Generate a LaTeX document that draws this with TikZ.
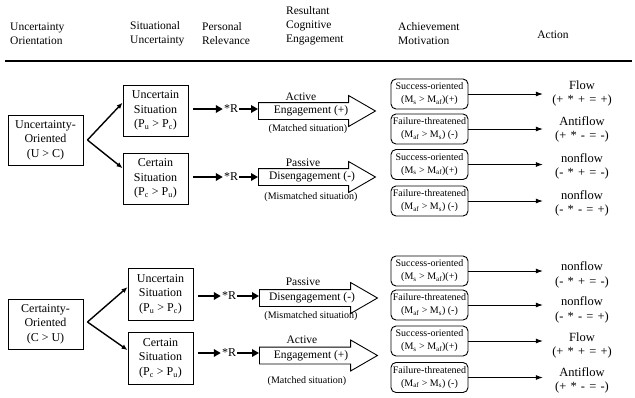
\documentclass[tikz,border=0pt]{standalone}
\usepackage{fontspec}
\setmainfont{Liberation Serif}
\usetikzlibrary{arrows.meta,shapes.arrows,calc}
\begin{document}
\begin{tikzpicture}[x=1pt,y=-1pt,
  hdr/.style={align=left, inner sep=0pt, font=\fontsize{11.5}{14}\selectfont},
  box/.style={draw, line width=0.9pt, align=center, inner sep=0pt, font=\fontsize{12}{14.5}\selectfont},
  mbox/.style={draw, rounded corners=5pt, line width=0.9pt, align=center, inner sep=1pt,
    minimum width=77pt, minimum height=30pt, font=\fontsize{10}{13}\selectfont},
  actn/.style={align=center, inner sep=0pt, text width=60pt, font=\fontsize{12.5}{14.5}\selectfont},
  rnode/.style={inner sep=1pt, font=\fontsize{12}{14}\selectfont},
  lab/.style={inner sep=0pt, font=\fontsize{11.5}{14}\selectfont},
  small/.style={inner sep=0pt, font=\fontsize{10}{12}\selectfont},
  bigarrow/.style={draw, line width=0.9pt, single arrow, single arrow head extend=7pt,
    single arrow tip angle=60, inner xsep=0pt, inner ysep=8pt, anchor=tail},
  thickarrow/.style={line width=2.6pt, -{Triangle[length=7pt,width=7.5pt]}},
  branch/.style={line width=1.4pt, -{Latex[length=6pt,width=5pt]}},
  flowarrow/.style={line width=0.8pt, shorten >=9pt, -{Latex[length=7pt,width=5pt]}}
]
\useasboundingbox (0,0) rectangle (635,397);

% header
\node[hdr, anchor=west] (h1) at (10,34) {Uncertainty\\Orientation};
\node[hdr, anchor=west] (h2) at (130,34) {Situational\\Uncertainty};
\node[hdr, anchor=west] (h3) at (202,34) {Personal\\Relevance};
\node[hdr, anchor=west] (h4) at (286,26) {Resultant\\Cognitive\\Engagement};
\node[hdr, anchor=west] (h5) at (398,34) {Achievement\\Motivation};
\node[hdr] (h6) at (553,35) {Action};
\coordinate (rl) at (5,61);
\coordinate (rr) at (632,61);
\draw[line width=1.2pt] (rl) -- (rr);

% ---------- top group ----------
\node[box, minimum width=75pt, minimum height=50pt] (uo) at (45.5,140) {Uncertainty-\\Oriented\\(U > C)};
\node[box, minimum width=65pt, minimum height=51pt] (us1) at (155.5,110.5) {Uncertain\\Situation\\(P\textsubscript{u} > P\textsubscript{c})};
\node[box, minimum width=65pt, minimum height=51pt] (cs1) at (155.5,178.5) {Certain\\Situation\\(P\textsubscript{c} > P\textsubscript{u})};
\coordinate (uoo) at ($(uo.east)+(4,0)$);
\draw[branch] (uoo) -- ($(us1.south west)!0.65!(us1.north west)$);
\draw[branch] (uoo) -- ($(cs1.south west)!0.7!(cs1.north west)$);

\node[rnode] (r1) at (231,109) {*R};
\node[rnode] (r2) at (231,177) {*R};
\node[bigarrow, minimum height=117pt] (e1) at (258,111) {};
\node[bigarrow, minimum height=117pt] (e2) at (258,177) {};
\draw[thickarrow] ($(us1.east |- r1)+(5,0)$) -- (r1.west);
\draw[thickarrow] (r1.east) -- (r1.east -| e1.tail);
\draw[thickarrow] ($(cs1.east |- r2)+(5,0)$) -- (r2.west);
\draw[thickarrow] (r2.east) -- (r2.east -| e2.tail);

\node[lab] (l1a) at (301,97) {Active};
\node[lab] (l1b) at (311,111) {Engagement (+)};
\node[small] (l1c) at (308,129) {(Matched situation)};
\node[lab] (l2a) at (303,163) {Passive};
\node[lab] (l2b) at (312,177) {Disengagement (-)};
\node[small] (l2c) at (311,197) {(Mismatched situation)};

\node[mbox] (m1) at (429.5,94) {Success-oriented\\(M\textsubscript{s} > M\textsubscript{af})(+)};
\node[mbox] (m2) at (429.5,129) {Failure-threatened\\(M\textsubscript{af} > M\textsubscript{s}) (-)};
\node[mbox] (m3) at (429.5,164.5) {Success-oriented\\(M\textsubscript{s} > M\textsubscript{af})(+)};
\node[mbox] (m4) at (429.5,201) {Failure-threatened\\(M\textsubscript{af} > M\textsubscript{s}) (-)};

\node[actn] (a1) at (582,93.5) {Flow\\(+ * + = +)};
\node[actn] (a2) at (582,129.5) {Antiflow\\(+ * - = -)};
\node[actn] (a3) at (582,166.5) {nonflow\\(- * + = -)};
\node[actn] (a4) at (582,203.5) {nonflow\\(- * - = +)};
\draw[flowarrow] (m1.east) -- (m1.east -| a1.west);
\draw[flowarrow] (m2.east) -- (m2.east -| a2.west);
\draw[flowarrow] (m3.east) -- (m3.east -| a3.west);
\draw[flowarrow] (m4.east) -- (m4.east -| a4.west);

% ---------- bottom group ----------
\node[box, minimum width=75pt, minimum height=50pt] (co) at (45.5,324) {Certainty-\\Oriented\\(C > U)};
\node[box, minimum width=65pt, minimum height=52pt] (us2) at (160.5,294) {Uncertain\\Situation\\(P\textsubscript{u} > P\textsubscript{c})};
\node[box, minimum width=65pt, minimum height=52pt] (cs2) at (160.5,358) {Certain\\Situation\\(P\textsubscript{c} > P\textsubscript{u})};
\coordinate (coo) at ($(co.east)+(4,-2)$);
\draw[branch] (coo) -- ($(us2.south west)!0.63!(us2.north west)$);
\draw[branch] (coo) -- ($(cs2.south west)!0.65!(cs2.north west)$);

\node[rnode] (r3) at (229,296) {*R};
\node[rnode] (r4) at (229,353) {*R};
\node[bigarrow, minimum height=118pt] (e3) at (259,298) {};
\node[bigarrow, minimum height=118pt] (e4) at (259,355.5) {};
\draw[thickarrow] ($(us2.east |- r3)+(5,0)$) -- (r3.west);
\draw[thickarrow] (r3.east) -- (r3.east -| e3.tail);
\draw[thickarrow] ($(cs2.east |- r4)+(5,0)$) -- (r4.west);
\draw[thickarrow] (r4.east) -- (r4.east -| e4.tail);

\node[lab] (l3a) at (303,282) {Passive};
\node[lab] (l3b) at (312,298) {Disengagement (-)};
\node[small] (l3c) at (311,316) {(Mismatched situation)};
\node[lab] (l4a) at (302,340) {Active};
\node[lab] (l4b) at (311,355.5) {Engagement (+)};
\node[small] (l4c) at (307,381) {(Matched situation)};

\node[mbox] (m5) at (429.5,271) {Success-oriented\\(M\textsubscript{s} > M\textsubscript{af})(+)};
\node[mbox] (m6) at (429.5,305) {Failure-threatened\\(M\textsubscript{af} > M\textsubscript{s}) (-)};
\node[mbox] (m7) at (429.5,341) {Success-oriented\\(M\textsubscript{s} > M\textsubscript{af})(+)};
\node[mbox] (m8) at (429.5,377.5) {Failure-threatened\\(M\textsubscript{af} > M\textsubscript{s}) (-)};

\node[actn] (a5) at (582,275) {nonflow\\(- * + = -)};
\node[actn] (a6) at (582,310) {nonflow\\(- * - = +)};
\node[actn] (a7) at (582,345.5) {Flow\\(+ * + = +)};
\node[actn] (a8) at (582,380.5) {Antiflow\\(+ * - = -)};
\draw[flowarrow] (m5.east) -- (m5.east -| a5.west);
\draw[flowarrow] (m6.east) -- (m6.east -| a6.west);
\draw[flowarrow] (m7.east) -- (m7.east -| a7.west);
\draw[flowarrow] (m8.east) -- (m8.east -| a8.west);
\end{tikzpicture}
\end{document}
